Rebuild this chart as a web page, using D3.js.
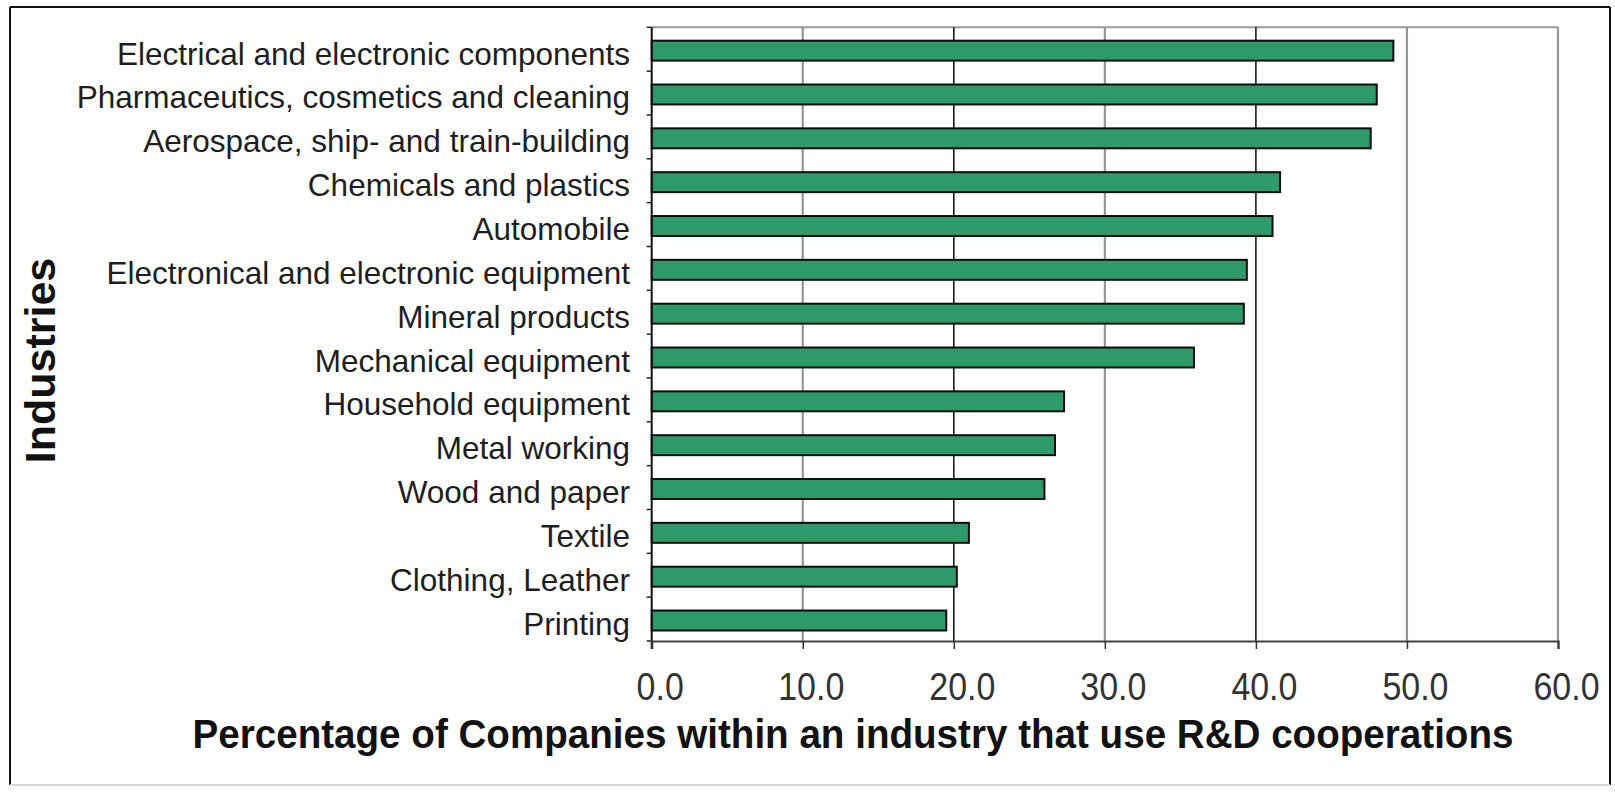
<!DOCTYPE html>
<html>
<head>
<meta charset="utf-8">
<script src="https://cdn.jsdelivr.net/npm/d3@7/dist/d3.min.js"></script>
<style>
  html, body { margin: 0; padding: 0; background: #ffffff; }
  svg { display: block; font-family: "Liberation Sans", Arial, sans-serif; }
</style>
</head>
<body>
<svg id="chart" width="1615" height="796"></svg>
<script>
// ---- Data ----
const categories = [
  "Electrical and electronic components",
  "Pharmaceutics, cosmetics and cleaning",
  "Aerospace, ship- and train-building",
  "Chemicals and plastics",
  "Automobile",
  "Electronical and electronic equipment",
  "Mineral products",
  "Mechanical equipment",
  "Household equipment",
  "Metal working",
  "Wood and paper",
  "Textile",
  "Clothing, Leather",
  "Printing"
];
const values = [49.1, 48.0, 47.6, 41.6, 41.1, 39.4, 39.2, 35.9, 27.3, 26.7, 26.0, 21.0, 20.2, 19.5];
const xTicks = [0, 10, 20, 30, 40, 50, 60];
const xTickLabels = ["0.0", "10.0", "20.0", "30.0", "40.0", "50.0", "60.0"];
const xTitle = "Percentage of Companies within an industry that use R&D cooperations";
const yTitle = "Industries";

// ---- Layout ----
const svg = d3.select("#chart");
const plot = { left: 651.7, right: 1558, top: 27.3, bottom: 641 };

const x = d3.scaleLinear().domain([0, 60]).range([plot.left, plot.right]);
const y = d3.scaleBand().domain(categories).range([plot.top, plot.bottom])
  .paddingInner(0.545).paddingOuter(0.2725).align(0.56);

// outer frame
svg.append("line").attr("x1", 10).attr("y1", 7).attr("x2", 1610).attr("y2", 7).attr("stroke", "#111").attr("stroke-width", 2);
svg.append("line").attr("x1", 10).attr("y1", 7).attr("x2", 10).attr("y2", 785).attr("stroke", "#111").attr("stroke-width", 2);
svg.append("line").attr("x1", 1610).attr("y1", 7).attr("x2", 1610).attr("y2", 785).attr("stroke", "#111").attr("stroke-width", 2);
svg.append("line").attr("x1", 10).attr("y1", 785).attr("x2", 1610).attr("y2", 785).attr("stroke", "#d8d8d8").attr("stroke-width", 2);

// top plot border
svg.append("line").attr("x1", plot.left).attr("x2", plot.right)
  .attr("y1", plot.top).attr("y2", plot.top).attr("stroke", "#9a9a9a").attr("stroke-width", 2);

// vertical gridlines
svg.append("g").selectAll("line").data(xTicks.filter(d => d > 0)).join("line")
  .attr("x1", d => x(d)).attr("x2", d => x(d))
  .attr("y1", plot.top).attr("y2", plot.bottom)
  .attr("stroke", d => (d === 20 || d === 40) ? "#1a1a1a" : "#959595")
  .attr("stroke-width", d => (d === 20 || d === 40) ? 1.6 : 2.2);

// bars
svg.append("g").selectAll("rect").data(categories).join("rect")
  .attr("x", x(0))
  .attr("y", d => y(d))
  .attr("width", (d, i) => x(values[i]) - x(0))
  .attr("height", y.bandwidth())
  .attr("fill", "#2e9a69")
  .attr("stroke", "#0d0d0d")
  .attr("stroke-width", 2);

// left axis line
svg.append("line").attr("x1", plot.left).attr("x2", plot.left)
  .attr("y1", plot.top).attr("y2", plot.bottom + 8)
  .attr("stroke", "#111").attr("stroke-width", 2);

// left ticks at band boundaries
const nB = categories.length;
const boundaries = d3.range(nB + 1).map(i => plot.top + i * (plot.bottom - plot.top) / nB);
svg.append("g").selectAll("line").data(boundaries).join("line")
  .attr("x1", plot.left - 5).attr("x2", plot.left)
  .attr("y1", d => d).attr("y2", d => d)
  .attr("stroke", "#222").attr("stroke-width", 1.5);

// bottom axis via d3.axisBottom
const xAxis = d3.axisBottom(x).tickValues(xTicks).tickSize(8)
  .tickFormat((d, i) => xTickLabels[i]);
const gx = svg.append("g").attr("transform", `translate(0,${plot.bottom})`).call(xAxis);
gx.select(".domain").attr("stroke", "#444").attr("stroke-width", 2.2);
gx.selectAll(".tick line").attr("stroke", "#333").attr("stroke-width", 1.5);
gx.selectAll(".tick text")
  .attr("font-family", "'Liberation Sans', Arial, sans-serif")
  .attr("font-size", 39)
  .attr("fill", "#333")
  .attr("dy", null)
  .attr("y", 59)
  .attr("x", 8)
  .attr("text-anchor", "middle")
  .each(function() {
    const l = this.getComputedTextLength();
    d3.select(this).attr("textLength", l * 0.87).attr("lengthAdjust", "spacingAndGlyphs");
  });

// category labels
svg.append("g").selectAll("text").data(categories).join("text")
  .attr("x", 630)
  .attr("y", d => y(d) + y.bandwidth() / 2 + 14)
  .attr("text-anchor", "end")
  .attr("font-size", 31.5)
  .attr("fill", "#1e1e1e")
  .text(d => d);

// x title
const xt = svg.append("text")
  .attr("x", 853).attr("y", 748)
  .attr("text-anchor", "middle")
  .attr("font-size", 41)
  .attr("font-weight", "bold")
  .attr("fill", "#111")
  .text(xTitle);
xt.attr("textLength", 1321).attr("lengthAdjust", "spacingAndGlyphs");

// y title
svg.append("text")
  .attr("transform", "translate(55,360.5) rotate(-90)")
  .attr("text-anchor", "middle")
  .attr("font-size", 43)
  .attr("font-weight", "bold")
  .attr("fill", "#111")
  .text(yTitle);
</script>
</body>
</html>
